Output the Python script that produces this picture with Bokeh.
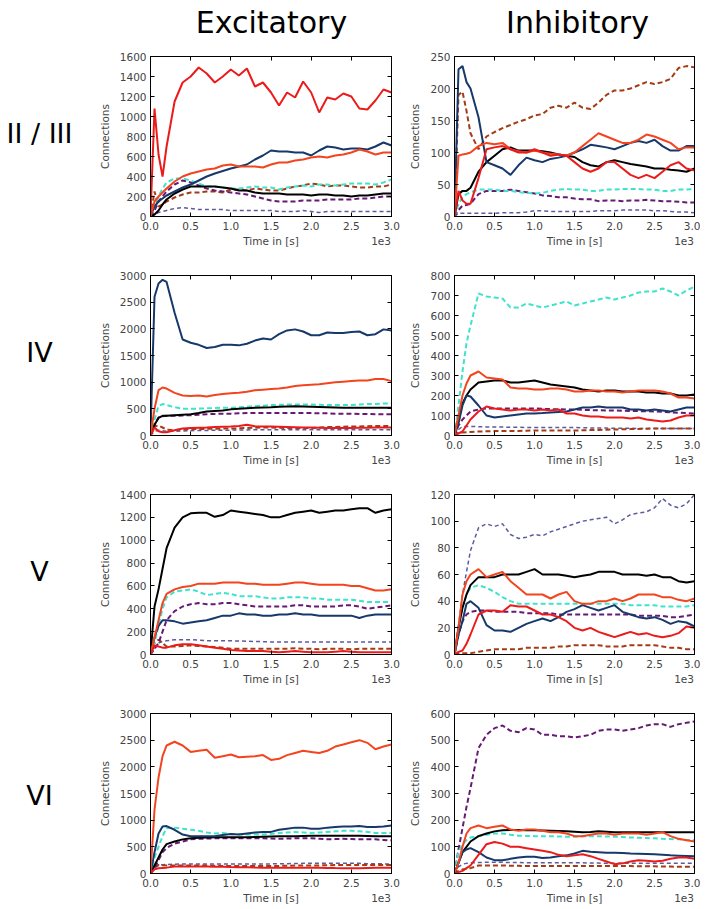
from bokeh.plotting import figure
from bokeh.models import (Range1d, FixedTicker, PrintfTickFormatter, LinearAxis,
                          CustomJSTickFormatter)
from bokeh.core.properties import value
from bokeh.layouts import row, column
from bokeh.embed import file_html
from bokeh.resources import INLINE

# ---------------- data ----------------
T = [0, 0.05, 0.1, 0.15, 0.2, 0.3, 0.4, 0.5, 0.6, 0.7, 0.8, 0.9, 1.0, 1.1, 1.2, 1.3,
     1.4, 1.5, 1.6, 1.7, 1.8, 1.9, 2.0, 2.1, 2.2, 2.3, 2.4, 2.5, 2.6, 2.7, 2.8, 2.9, 3.0]
X_TICKS = [0.0, 0.5, 1.0, 1.5, 2.0, 2.5, 3.0]
X_LABEL = "Time in [s]"
X_SCALE_LABEL = "1e3"
Y_LABEL = "Connections"
ROW_NAMES = ["II / III", "IV", "V", "VI"]
COL_NAMES = ["Excitatory", "Inhibitory"]

# Layer II/III excitatory
e23_red = [0, 1080, 620, 400, 700, 1150, 1340, 1400, 1490, 1430, 1340, 1400, 1470, 1410, 1480, 1300, 1340, 1240, 1110, 1240, 1190, 1350, 1240, 1040, 1190, 1170, 1230, 1200, 1080, 1070, 1160, 1270, 1240]
e23_orange = [0, 150, 200, 240, 280, 350, 400, 430, 450, 470, 480, 510, 520, 500, 500, 500, 490, 520, 540, 540, 560, 570, 590, 600, 590, 610, 620, 640, 670, 650, 620, 640, 640]
e23_navy = [0, 100, 150, 180, 210, 250, 290, 320, 360, 400, 430, 455, 480, 500, 520, 570, 610, 660, 650, 650, 640, 640, 610, 660, 700, 690, 670, 680, 680, 670, 700, 740, 710]
e23_black = [0, 20, 60, 120, 170, 230, 270, 300, 300, 300, 300, 290, 280, 260, 260, 240, 230, 230, 230, 220, 220, 220, 210, 220, 220, 210, 210, 200, 210, 210, 220, 230, 230]
e23_cyan = [0, 100, 200, 280, 340, 380, 380, 360, 330, 300, 300, 290, 280, 280, 290, 300, 290, 290, 270, 290, 300, 310, 300, 320, 320, 310, 320, 330, 330, 330, 320, 340, 370]
e23_purple = [0, 60, 150, 200, 250, 320, 360, 340, 310, 280, 260, 250, 240, 230, 220, 200, 180, 160, 150, 150, 150, 160, 160, 160, 170, 170, 170, 170, 180, 180, 190, 200, 200]
e23_brown = [0, 250, 100, 120, 150, 190, 220, 240, 240, 250, 250, 240, 270, 270, 260, 280, 270, 260, 260, 280, 300, 310, 330, 320, 300, 310, 310, 300, 290, 290, 300, 300, 320]
e23_slate = [0, 20, 40, 50, 60, 80, 90, 80, 70, 70, 70, 70, 60, 60, 60, 60, 60, 60, 50, 50, 50, 60, 50, 40, 50, 50, 50, 50, 50, 50, 50, 50, 50]

# Layer II/III inhibitory
i23_red = [0, 40, 25, 20, 20, 60, 105, 108, 110, 105, 100, 100, 105, 100, 95, 97, 95, 85, 75, 70, 75, 85, 85, 75, 65, 60, 65, 60, 70, 80, 85, 75, 72]
i23_orange = [0, 95, 97, 98, 100, 110, 115, 113, 115, 105, 102, 100, 103, 100, 98, 97, 95, 100, 110, 120, 130, 125, 120, 115, 115, 120, 128, 125, 120, 115, 105, 108, 108]
i23_navy = [0, 230, 235, 210, 200, 155, 85, 80, 75, 65, 80, 92, 88, 85, 90, 92, 95, 100, 105, 112, 110, 108, 105, 110, 115, 118, 115, 120, 110, 103, 103, 110, 110]
i23_black = [0, 35, 40, 40, 45, 70, 85, 95, 105, 108, 103, 103, 103, 102, 100, 97, 95, 93, 85, 80, 78, 85, 88, 85, 82, 80, 78, 75, 75, 73, 72, 70, 75]
i23_cyan = [0, 20, 30, 35, 38, 42, 42, 42, 40, 40, 38, 37, 36, 37, 40, 42, 43, 42, 42, 40, 40, 42, 42, 43, 43, 43, 42, 42, 40, 40, 42, 42, 43]
i23_purple = [0, 10, 17, 18, 20, 35, 40, 40, 40, 42, 40, 38, 36, 33, 32, 30, 30, 28, 27, 27, 24, 25, 25, 24, 25, 25, 26, 25, 24, 24, 23, 22, 22]
i23_brown = [0, 190, 195, 165, 130, 105, 125, 132, 138, 143, 148, 152, 158, 160, 170, 173, 170, 178, 170, 168, 178, 190, 197, 197, 200, 205, 210, 207, 210, 215, 232, 235, 233]
i23_slate = [0, 5, 5, 5, 5, 5, 5, 5, 6, 6, 6, 7, 9, 9, 8, 8, 8, 8, 8, 8, 9, 9, 9, 10, 10, 10, 10, 9, 9, 8, 7, 7, 6]

# Layer IV excitatory
e4_red = [0, 150, 80, 60, 60, 100, 130, 140, 145, 150, 160, 165, 170, 180, 200, 175, 170, 170, 165, 160, 155, 150, 150, 145, 140, 140, 140, 140, 145, 145, 150, 150, 150]
e4_orange = [0, 500, 850, 900, 880, 800, 750, 740, 750, 730, 760, 780, 790, 800, 820, 850, 860, 870, 880, 900, 930, 940, 950, 960, 980, 1000, 1010, 1020, 1030, 1030, 1060, 1060, 1020]
e4_navy = [0, 2600, 2850, 2920, 2880, 2300, 1800, 1740, 1700, 1640, 1660, 1700, 1700, 1690, 1720, 1780, 1820, 1800, 1900, 1970, 1990, 1950, 1880, 1880, 1930, 1920, 1920, 1940, 1950, 1880, 1900, 1990, 1970]
e4_black = [0, 200, 330, 370, 370, 380, 390, 400, 420, 450, 460, 470, 490, 500, 510, 520, 525, 530, 540, 545, 550, 545, 540, 535, 530, 525, 520, 520, 520, 520, 520, 520, 520]
e4_cyan = [0, 300, 550, 590, 570, 530, 500, 500, 505, 510, 515, 520, 520, 530, 540, 550, 560, 570, 575, 580, 580, 580, 580, 575, 570, 570, 570, 570, 580, 590, 590, 600, 600]
e4_purple = [0, 200, 340, 360, 370, 370, 375, 380, 390, 400, 405, 410, 410, 415, 420, 420, 420, 420, 420, 420, 420, 420, 420, 415, 415, 410, 410, 410, 405, 405, 400, 400, 400]
e4_brown = [0, 170, 190, 150, 110, 100, 110, 120, 120, 125, 125, 130, 130, 135, 140, 145, 150, 150, 145, 140, 140, 140, 140, 150, 160, 160, 165, 170, 170, 175, 180, 180, 180]
e4_slate = [0, 80, 100, 90, 80, 80, 85, 90, 95, 95, 100, 100, 100, 105, 105, 110, 110, 110, 110, 110, 110, 110, 110, 110, 110, 110, 110, 110, 110, 110, 110, 110, 110]

# Layer IV inhibitory
i4_red = [0, 10, 20, 50, 80, 120, 145, 135, 130, 125, 130, 130, 125, 130, 125, 130, 110, 110, 100, 95, 95, 90, 90, 90, 85, 90, 80, 75, 70, 75, 90, 100, 100]
i4_orange = [0, 100, 200, 260, 300, 320, 290, 285, 280, 240, 235, 235, 230, 230, 235, 235, 230, 220, 220, 225, 225, 220, 220, 215, 220, 225, 225, 225, 220, 210, 190, 190, 185]
i4_navy = [0, 60, 150, 200, 195, 150, 100, 90, 95, 100, 105, 110, 110, 112, 115, 118, 120, 130, 140, 140, 145, 140, 140, 140, 130, 130, 125, 130, 125, 120, 130, 140, 140]
i4_black = [0, 90, 160, 200, 230, 265, 270, 275, 275, 265, 265, 270, 275, 265, 255, 250, 245, 240, 230, 225, 220, 225, 225, 220, 220, 220, 215, 215, 210, 210, 200, 200, 205]
i4_cyan = [0, 150, 320, 460, 550, 710, 695, 690, 685, 640, 640, 660, 650, 640, 650, 660, 670, 650, 660, 670, 680, 690, 680, 690, 700, 715, 720, 720, 735, 720, 700, 725, 745]
i4_purple = [0, 50, 80, 100, 120, 130, 135, 135, 135, 135, 135, 135, 135, 133, 132, 131, 130, 130, 128, 127, 126, 125, 125, 124, 123, 122, 121, 120, 118, 116, 114, 112, 110]
i4_brown = [0, 15, 15, 16, 18, 20, 21, 22, 22, 23, 23, 24, 25, 25, 25, 25, 25, 25, 26, 27, 28, 29, 30, 31, 32, 33, 34, 35, 35, 35, 35, 35, 35]
i4_slate = [0, 30, 45, 45, 45, 44, 43, 42, 42, 41, 41, 40, 40, 40, 40, 40, 40, 40, 39, 38, 38, 37, 36, 36, 36, 35, 35, 35, 35, 35, 35, 35, 35]

# Layer V excitatory
e5_red = [0, 80, 70, 60, 60, 80, 90, 90, 80, 70, 60, 50, 40, 35, 30, 30, 30, 25, 20, 25, 30, 25, 20, 20, 20, 25, 30, 25, 20, 20, 20, 20, 20]
e5_orange = [0, 150, 300, 450, 530, 570, 590, 600, 620, 620, 620, 630, 630, 630, 620, 620, 610, 610, 610, 620, 630, 630, 620, 610, 610, 610, 610, 600, 600, 580, 560, 560, 570]
e5_navy = [0, 150, 250, 300, 300, 290, 270, 280, 290, 300, 320, 340, 340, 360, 350, 350, 340, 340, 350, 350, 360, 350, 350, 340, 340, 340, 340, 340, 320, 340, 350, 350, 350]
e5_black = [0, 420, 570, 750, 930, 1110, 1200, 1235, 1240, 1240, 1205, 1220, 1260, 1250, 1240, 1230, 1220, 1200, 1200, 1220, 1240, 1250, 1260, 1240, 1250, 1260, 1260, 1270, 1280, 1280, 1240, 1260, 1270]
e5_cyan = [0, 100, 250, 400, 500, 550, 560, 570, 550, 520, 530, 540, 530, 510, 510, 510, 500, 490, 490, 500, 500, 500, 490, 490, 480, 480, 480, 480, 470, 460, 460, 460, 460]
e5_purple = [0, 50, 100, 200, 300, 380, 420, 440, 450, 440, 440, 450, 450, 440, 430, 420, 420, 420, 420, 420, 430, 430, 420, 420, 420, 420, 430, 430, 420, 400, 410, 420, 430]
e5_brown = [0, 100, 130, 100, 70, 70, 75, 80, 75, 70, 65, 60, 50, 50, 50, 50, 50, 50, 50, 50, 55, 50, 50, 45, 50, 50, 50, 45, 50, 50, 50, 50, 50]
e5_slate = [0, 50, 100, 115, 120, 130, 130, 130, 125, 120, 120, 120, 120, 118, 116, 114, 112, 110, 110, 110, 110, 110, 110, 110, 110, 110, 110, 110, 110, 110, 110, 110, 110]

# Layer V inhibitory
i5_red = [0, 2, 3, 8, 15, 30, 33, 33, 32, 37, 36, 36, 33, 30, 30, 28, 25, 20, 18, 20, 17, 15, 13, 15, 17, 15, 16, 14, 13, 14, 16, 21, 20]
i5_orange = [0, 20, 45, 55, 60, 64, 58, 60, 62, 55, 50, 45, 45, 45, 42, 45, 47, 40, 38, 38, 40, 40, 42, 40, 42, 45, 45, 45, 43, 43, 41, 40, 42]
i5_navy = [0, 15, 25, 38, 40, 35, 22, 18, 18, 17, 20, 23, 25, 27, 25, 28, 32, 34, 37, 35, 33, 35, 37, 32, 30, 28, 27, 28, 26, 23, 25, 24, 21]
i5_black = [0, 20, 35, 45, 52, 58, 58, 58, 60, 60, 60, 62, 64, 60, 60, 60, 59, 58, 59, 60, 62, 62, 62, 60, 60, 60, 59, 60, 58, 58, 55, 54, 55]
i5_cyan = [0, 22, 35, 45, 50, 52, 50, 47, 43, 40, 38, 38, 38, 38, 38, 38, 38, 38, 38, 38, 38, 38, 38, 38, 37, 37, 37, 37, 36, 36, 36, 36, 37]
i5_purple = [0, 15, 25, 30, 32, 33, 33, 32, 32, 32, 32, 31, 31, 31, 31, 30, 30, 30, 30, 30, 30, 30, 30, 30, 30, 29, 29, 29, 29, 28, 28, 29, 30]
i5_brown = [0, 1, 1, 1, 1, 2, 3, 4, 4, 4, 4, 5, 5, 5, 5, 6, 6, 7, 7, 7, 7, 6, 6, 6, 7, 7, 7, 7, 6, 5, 5, 4, 4]
i5_slate = [0, 22, 45, 62, 78, 95, 98, 96, 98, 90, 87, 88, 90, 89, 92, 94, 96, 98, 100, 101, 102, 103, 98, 101, 105, 106, 107, 110, 117, 112, 110, 113, 120]

# Layer VI excitatory
e6_red = [0, 80, 100, 105, 110, 130, 130, 130, 130, 130, 128, 125, 120, 118, 115, 112, 110, 110, 110, 110, 110, 110, 110, 108, 105, 102, 100, 100, 100, 105, 108, 110, 110]
e6_orange = [0, 1200, 1800, 2200, 2400, 2470, 2400, 2280, 2300, 2320, 2170, 2200, 2230, 2180, 2190, 2200, 2220, 2130, 2150, 2220, 2260, 2300, 2280, 2260, 2300, 2380, 2420, 2460, 2500, 2450, 2330, 2380, 2420]
e6_navy = [0, 400, 750, 880, 890, 820, 730, 700, 700, 700, 700, 720, 740, 730, 750, 770, 780, 780, 820, 840, 860, 860, 840, 840, 860, 870, 880, 880, 890, 870, 870, 880, 900]
e6_black = [0, 150, 300, 450, 550, 600, 640, 660, 670, 675, 680, 680, 680, 680, 680, 685, 690, 695, 700, 700, 700, 705, 710, 710, 710, 710, 710, 710, 710, 705, 700, 700, 700]
e6_cyan = [0, 300, 500, 700, 850, 860, 840, 820, 800, 770, 750, 760, 740, 735, 730, 730, 730, 740, 760, 770, 780, 770, 760, 770, 780, 790, 800, 800, 790, 780, 760, 760, 760]
e6_purple = [0, 100, 250, 400, 480, 560, 600, 640, 650, 655, 660, 660, 660, 660, 660, 660, 660, 655, 650, 655, 660, 660, 660, 650, 640, 645, 650, 645, 640, 640, 640, 630, 620]
e6_brown = [0, 130, 160, 155, 150, 150, 150, 150, 150, 148, 145, 142, 140, 140, 140, 140, 140, 140, 142, 145, 148, 150, 150, 152, 155, 158, 160, 160, 160, 160, 160, 160, 160]
e6_slate = [0, 100, 150, 165, 170, 175, 178, 180, 180, 180, 180, 180, 180, 180, 180, 180, 180, 180, 182, 185, 188, 190, 190, 190, 190, 190, 190, 190, 190, 185, 185, 180, 180]

# Layer VI inhibitory
i6_red = [0, 5, 10, 20, 30, 70, 110, 118, 112, 100, 100, 95, 90, 85, 80, 70, 65, 68, 72, 65, 55, 45, 35, 38, 45, 50, 48, 45, 48, 55, 60, 60, 55]
i6_orange = [0, 40, 100, 150, 170, 180, 170, 175, 180, 165, 160, 165, 165, 160, 155, 155, 150, 140, 140, 145, 150, 150, 145, 150, 150, 150, 145, 150, 155, 140, 130, 125, 120]
i6_navy = [0, 40, 80, 90, 95, 80, 60, 50, 50, 55, 60, 63, 63, 58, 60, 65, 68, 75, 85, 82, 80, 78, 78, 77, 75, 74, 73, 72, 70, 68, 67, 66, 65]
i6_black = [0, 40, 80, 100, 120, 140, 150, 158, 162, 163, 163, 162, 162, 161, 160, 159, 158, 157, 155, 156, 158, 157, 155, 155, 155, 155, 155, 155, 155, 155, 155, 155, 155]
i6_cyan = [0, 80, 110, 125, 135, 140, 145, 150, 150, 145, 142, 141, 140, 140, 140, 139, 138, 138, 140, 140, 140, 139, 138, 137, 135, 134, 133, 132, 130, 129, 128, 126, 125]
i6_purple = [0, 90, 170, 250, 320, 470, 520, 545, 555, 535, 530, 545, 540, 520, 520, 515, 515, 510, 515, 520, 535, 540, 540, 535, 540, 545, 555, 560, 560, 550, 560, 565, 570]
i6_brown = [0, 10, 15, 18, 20, 30, 30, 30, 30, 29, 29, 28, 28, 28, 28, 28, 28, 28, 28, 28, 28, 28, 28, 28, 28, 27, 27, 27, 26, 26, 25, 25, 25]
i6_slate = [0, 25, 35, 38, 40, 41, 42, 42, 42, 41, 41, 40, 40, 40, 40, 40, 40, 40, 40, 39, 39, 38, 38, 38, 38, 38, 38, 38, 38, 38, 38, 38, 38]

E23_YTICKS = [0, 200, 400, 600, 800, 1000, 1200, 1400, 1600]
I23_YTICKS = [0, 50, 100, 150, 200, 250]
E4_YTICKS = [0, 500, 1000, 1500, 2000, 2500, 3000]
I4_YTICKS = [0, 100, 200, 300, 400, 500, 600, 700, 800]
E5_YTICKS = [0, 200, 400, 600, 800, 1000, 1200, 1400]
I5_YTICKS = [0, 20, 40, 60, 80, 100, 120]
E6_YTICKS = [0, 500, 1000, 1500, 2000, 2500, 3000]
I6_YTICKS = [0, 100, 200, 300, 400, 500, 600]

# ---------------- styles ----------------
STYLES = {
    "slate": ("#5b5ba0", "4 3", 1.5),
    "brown": ("#a33c14", "5 3", 2),
    "purple": ("#671a75", "5 3", 2),
    "cyan": ("#3fe3cc", "5 3", 2),
    "black": ("#000000", "solid", 2),
    "navy": ("#16386a", "solid", 2),
    "orange": ("#f4441f", "solid", 2),
    "red": ("#ec1b1b", "solid", 2),
}
ORDER = ["slate", "brown", "purple", "cyan", "black", "navy", "orange", "red"]


def pack(red, orange, navy, black, cyan, purple, brown, slate):
    return {"red": red, "orange": orange, "navy": navy, "black": black,
            "cyan": cyan, "purple": purple, "brown": brown, "slate": slate}


PANELS = [
    [(pack(e23_red, e23_orange, e23_navy, e23_black, e23_cyan, e23_purple, e23_brown, e23_slate), E23_YTICKS),
     (pack(i23_red, i23_orange, i23_navy, i23_black, i23_cyan, i23_purple, i23_brown, i23_slate), I23_YTICKS)],
    [(pack(e4_red, e4_orange, e4_navy, e4_black, e4_cyan, e4_purple, e4_brown, e4_slate), E4_YTICKS),
     (pack(i4_red, i4_orange, i4_navy, i4_black, i4_cyan, i4_purple, i4_brown, i4_slate), I4_YTICKS)],
    [(pack(e5_red, e5_orange, e5_navy, e5_black, e5_cyan, e5_purple, e5_brown, e5_slate), E5_YTICKS),
     (pack(i5_red, i5_orange, i5_navy, i5_black, i5_cyan, i5_purple, i5_brown, i5_slate), I5_YTICKS)],
    [(pack(e6_red, e6_orange, e6_navy, e6_black, e6_cyan, e6_purple, e6_brown, e6_slate), E6_YTICKS),
     (pack(i6_red, i6_orange, i6_navy, i6_black, i6_cyan, i6_purple, i6_brown, i6_slate), I6_YTICKS)],
]

FONT = "DejaVu Sans"
TICK_FS = "10.5px"
FRAME_H = 160
TOP_B = 12
ROW_H = 219
LAST_BOTTOM = 34
HEADER_H = 44
LABEL_W = 72


def style_axis(ax, ticks, show_labels):
    ax.ticker = FixedTicker(ticks=ticks)
    ax.axis_line_color = "black"
    ax.major_tick_line_color = "black"
    ax.major_tick_in = 4
    ax.major_tick_out = 0
    ax.minor_tick_line_color = None
    ax.major_label_text_font = FONT
    ax.major_label_text_font_size = TICK_FS
    ax.axis_label_text_font = FONT
    ax.axis_label_text_font_size = TICK_FS
    ax.axis_label_text_font_style = "normal"
    if not show_labels:
        ax.formatter = CustomJSTickFormatter(code="return ''")
        ax.major_label_standoff = 0


def make_panel(series, yticks, is_exc, is_last):
    bottom = LAST_BOTTOM if is_last else ROW_H - TOP_B - FRAME_H
    h = TOP_B + FRAME_H + bottom
    if is_exc:
        w, bl, br = 329, 78, 10      # frame 241 px wide, left edge at x=150
    else:
        w, bl, br = 299, 53, 6       # frame 240 px wide, left edge at x=454
    p = figure(width=w, height=h, x_range=Range1d(0, 3), y_range=Range1d(0, yticks[-1]),
               output_backend="svg", toolbar_location=None, title_location=None,
               min_border_left=bl, min_border_right=br, min_border_top=TOP_B,
               min_border_bottom=bottom)
    p.grid.visible = False
    p.outline_line_color = "black"
    p.outline_line_width = 1
    p.background_fill_color = "white"
    p.border_fill_color = "white"

    for key in ORDER:
        color, dash, lw = STYLES[key]
        p.line(T, series[key], line_color=color, line_dash=dash, line_width=lw)

    xa = p.xaxis[0]
    style_axis(xa, X_TICKS, True)
    xa.formatter = PrintfTickFormatter(format="%.1f")
    xa.major_label_standoff = 5

    # second axis below carrying "Time in [s]" and the "1e3" multiplier on one line
    xl = LinearAxis()
    style_axis(xl, [1.5, 2.87], True)
    xl.axis_line_color = None
    xl.major_tick_line_color = None
    xl.major_tick_in = 0
    xl.major_label_standoff = 2
    xl.major_label_overrides = {1.5: X_LABEL, 2.87: X_SCALE_LABEL}
    p.add_layout(xl, "below")

    ya = p.yaxis[0]
    style_axis(ya, yticks, True)
    ya.axis_label = Y_LABEL
    ya.major_label_standoff = 4
    ya.axis_label_standoff = 6

    top = LinearAxis()
    style_axis(top, X_TICKS, False)
    p.add_layout(top, "above")
    right = LinearAxis()
    style_axis(right, yticks, False)
    p.add_layout(right, "right")
    return p


def bare_fig(w, h):
    f = figure(width=w, height=h, x_range=Range1d(0, w), y_range=Range1d(0, h),
               x_axis_type=None, y_axis_type=None, output_backend="svg",
               toolbar_location=None, title_location=None, min_border=0)
    f.grid.visible = False
    f.outline_line_color = None
    f.background_fill_color = "white"
    f.border_fill_color = "white"
    return f


def row_label(text, h):
    f = bare_fig(LABEL_W, h)
    f.text(x=[39], y=[h - TOP_B - FRAME_H / 2 - 14], text=[text], text_align="center",
           text_baseline="middle", text_font=value(FONT), text_font_size="27px",
           text_color="black")
    return f


header = bare_fig(700, HEADER_H)
header.text(x=[271, 577], y=[HEADER_H - 22, HEADER_H - 22], text=COL_NAMES,
            text_align="center", text_baseline="alphabetic", text_font=value(FONT),
            text_font_size="30px", text_color="black")

rows = [header]
for r, (exc, inh) in enumerate(PANELS):
    last = r == len(PANELS) - 1
    pe = make_panel(exc[0], exc[1], True, last)
    pi = make_panel(inh[0], inh[1], False, last)
    rows.append(row(row_label(ROW_NAMES[r], pe.height), pe, pi))

layout = column(*rows)
open("out.html", "w").write(file_html(layout, INLINE))
